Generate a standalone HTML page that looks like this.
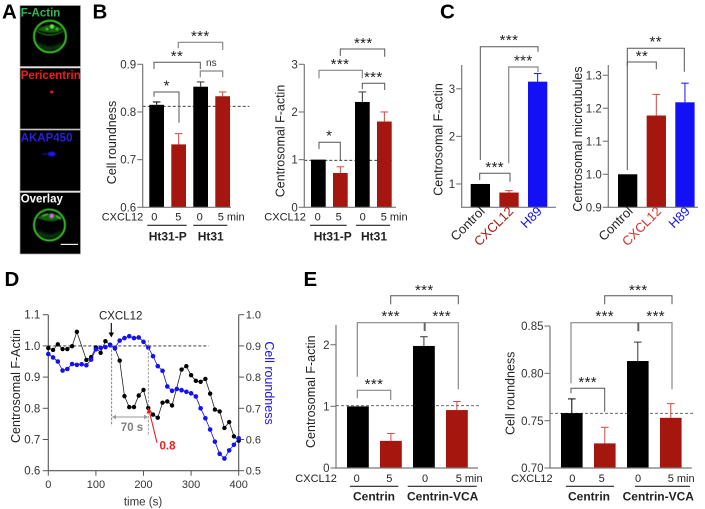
<!DOCTYPE html>
<html lang="en">
<head>
<meta charset="utf-8">
<title>Centrosomal F-actin figure</title>
<style>
html,body{margin:0;padding:0;background:#fff;width:705px;height:509px;overflow:hidden}
svg{display:block}
text{font-family:"Liberation Sans",Arial,sans-serif;fill:#222}
.letter{font-size:20.5px;font-weight:bold;fill:#000}
.tick{font-size:11.5px;fill:#333}
.lab{font-size:12.5px;fill:#222}
.row{font-size:11px;fill:#222}
.grp{font-size:12px;font-weight:bold;fill:#222}
.star{font-size:15px;text-anchor:middle;fill:#222;letter-spacing:.4px;transform:translateY(-1.5px)}
.brk{fill:none;stroke:#555;stroke-width:1}
.brkg{fill:none;stroke:#888;stroke-width:1.2}
.und{stroke:#222;stroke-width:1.1}
.dash{stroke:#222;stroke-width:.9;stroke-dasharray:3 2}
.micro{font-size:11.5px;font-weight:bold}
</style>
</head>
<body>
<svg id="fig" xmlns="http://www.w3.org/2000/svg" width="705" height="509" viewBox="0 0 705 509">
<defs>
<filter id="b1" x="-30%" y="-30%" width="160%" height="160%"><feGaussianBlur stdDeviation="0.6"/></filter>
<filter id="b2" x="-60%" y="-60%" width="220%" height="220%"><feGaussianBlur stdDeviation="1.5"/></filter>
</defs>
<rect x="0" y="0" width="705" height="509" fill="#fff"/>

<!-- Panel letters -->
<text class="letter" x="2" y="18.5">A</text>
<text class="letter" x="92.5" y="18.5">B</text>
<text class="letter" x="440" y="18.5">C</text>
<text class="letter" x="4.5" y="286">D</text>
<text class="letter" x="303.5" y="286">E</text>

<!-- Panel A micrographs -->
<g>
  <rect x="20" y="5.5" width="60.5" height="61" fill="#000" stroke="#aaa" stroke-width=".7"/>
  <path d="M37 30 Q50 20 63 29 Q56 36 37 30Z" fill="#145f0e" filter="url(#b1)"/>
  <path d="M38 44 Q50 53 62 44" fill="none" stroke="#0e4a0a" stroke-width="3" filter="url(#b2)"/>
  <ellipse cx="50" cy="36.5" rx="16" ry="15.8" fill="none" stroke="#3fd02c" stroke-width="1.8" filter="url(#b1)"/>
  <path d="M36.5 31 Q50 39 63.5 31" fill="none" stroke="#249a18" stroke-width=".9" filter="url(#b1)"/>
  <circle cx="52" cy="26.5" r="2.2" fill="#70e055" filter="url(#b1)"/>
  <circle cx="47" cy="29" r="1.3" fill="#55c83c" filter="url(#b1)"/>
  <circle cx="57" cy="29" r="1.3" fill="#55c83c" filter="url(#b1)"/>
</g>
<text class="micro" x="20.7" y="16.5" style="fill:#2fb653">F-Actin</text>
<g>
  <rect x="20" y="68" width="60.5" height="61" fill="#000" stroke="#aaa" stroke-width=".7"/>
  <circle cx="51.7" cy="92" r="1.5" fill="#f01818"/>
</g>
<text class="micro" x="20.7" y="79" style="fill:#ee1c1c">Pericentrin</text>
<g>
  <rect x="20" y="130" width="60.5" height="61" fill="#000" stroke="#aaa" stroke-width=".7"/>
  <ellipse cx="51.7" cy="154" rx="4" ry="2.4" fill="#2018f0" filter="url(#b1)"/>
  <ellipse cx="45" cy="154" rx="3" ry="1.3" fill="#0c0855" filter="url(#b1)"/>
</g>
<text class="micro" x="20.7" y="141.7" style="fill:#2a1fe0">AKAP450</text>
<g>
  <rect x="20" y="192.5" width="60.5" height="61.5" fill="#000" stroke="#aaa" stroke-width=".7"/>
  <path d="M37 218 Q50 209 62 217 Q55 225 37 218Z" fill="#145f0e" filter="url(#b1)"/>
  <path d="M38 232 Q50 241 61 232" fill="none" stroke="#0e4a0a" stroke-width="3" filter="url(#b2)"/>
  <ellipse cx="49.5" cy="225" rx="15.5" ry="15.5" fill="none" stroke="#3fd02c" stroke-width="1.8" filter="url(#b1)"/>
  <path d="M42 216 L48 214 M56 216 L61 219" stroke="#55c83c" stroke-width="1.4" filter="url(#b1)"/>
  <circle cx="51.7" cy="216" r="2.4" fill="#b070e0" filter="url(#b1)"/>
  <circle cx="51.7" cy="216" r="1" fill="#ff70a0"/>
  <rect x="60.7" y="243.8" width="17.3" height="1.2" fill="#eee"/>
</g>
<text class="micro" x="20.7" y="202.5" style="fill:#fff">Overlay</text>

<!-- Panel B annotations -->
<g>
  <line class="dash" x1="142.7" x2="249.3" y1="106.3" y2="106.3"/>
  <path class="brk" d="M154 96.7V92H179V122.7"/>
  <path class="brk" d="M154 69V62.3H200.3V69"/>
  <path class="brkg" d="M178.3 48.3V42.3H222.7V50"/>
  <path class="brkg" d="M200.3 77.3V71H222.7V77.3"/>
  <text class="star" x="166.7" y="92">*</text>
  <text class="star" x="177" y="62.7">**</text>
  <text class="star" x="200.3" y="42.7">***</text>
  <text x="211.3" y="66" font-size="10" text-anchor="middle" style="fill:#333">ns</text>
  <text class="row" x="101.7" y="220.6">CXCL12</text>
  <text class="row" x="154.3" y="220.6" text-anchor="middle">0</text>
  <text class="row" x="178.3" y="220.6" text-anchor="middle">5</text>
  <text class="row" x="199.7" y="220.6" text-anchor="middle">0</text>
  <text class="row" x="217.7" y="220.6">5 min</text>
  <line class="und" x1="147.3" x2="186.7" y1="225.3" y2="225.3"/>
  <line class="und" x1="193.3" x2="227.3" y1="225.3" y2="225.3"/>
  <text class="grp" x="167.7" y="240.3" text-anchor="middle">Ht31-P</text>
  <text class="grp" x="210.7" y="240.3" text-anchor="middle">Ht31</text>
</g>
<g>
  <line class="dash" x1="304.3" x2="391.7" y1="160.3" y2="160.3"/>
  <path class="brk" d="M319 149V142.3H340.3V160"/>
  <path class="brkg" d="M319 78.3V70.3H362.3V78.3"/>
  <path class="brk" d="M340.3 56V49H384.7V56.7"/>
  <path class="brk" d="M362.3 89.3V83.3H384.7V90"/>
  <text class="star" x="329.3" y="142">*</text>
  <text class="star" x="340" y="70.4">***</text>
  <text class="star" x="363.3" y="49.4">***</text>
  <text class="star" x="373.3" y="83.7">***</text>
  <text class="row" x="264.3" y="220.6">CXCL12</text>
  <text class="row" x="317.7" y="220.6" text-anchor="middle">0</text>
  <text class="row" x="338.7" y="220.6" text-anchor="middle">5</text>
  <text class="row" x="362.7" y="220.6" text-anchor="middle">0</text>
  <text class="row" x="380.7" y="220.6">5 min</text>
  <line class="und" x1="310" x2="346.7" y1="225.3" y2="225.3"/>
  <line class="und" x1="356" x2="390" y1="225.3" y2="225.3"/>
  <text class="grp" x="332.7" y="240.3" text-anchor="middle">Ht31-P</text>
  <text class="grp" x="374" y="240.3" text-anchor="middle">Ht31</text>
</g>

<!-- Panel C annotations -->
<g>
  <path class="brk" d="M480.3 160V46.7H538V51.7"/>
  <path class="brkg" d="M508.7 163.3V67H538V72"/>
  <path class="brk" d="M479.7 180V173.3H510V181.7"/>
  <text class="star" x="509" y="46.4">***</text>
  <text class="star" x="523.3" y="67">***</text>
  <text class="star" x="494.7" y="173.4">***</text>
  <path class="brk" d="M627.3 170V48.3H684.3V71.7"/>
  <path class="brk" d="M627.3 66V62H656.3V69.3"/>
  <text class="star" x="655.7" y="48">**</text>
  <text class="star" x="642" y="62.7">**</text>
</g>

<!-- Panel E annotations -->
<g>
  <line class="dash" style="stroke:#555" x1="336" x2="479" y1="405.7" y2="405.7"/>
  <path class="brk" d="M390.7 304.3V295.7H458.3V304.3"/>
  <path class="brkg" d="M357.3 376.7V322.7H458.3V389.3"/>
  <line x1="424.7" x2="424.7" y1="322.7" y2="331" stroke="#666" stroke-width="2"/>
  <path class="brkg" d="M357.3 398.3V390.3H390.7V400"/>
  <text class="star" x="424.3" y="296.4">***</text>
  <text class="star" x="390.7" y="322.7">***</text>
  <text class="star" x="441.7" y="322.7">***</text>
  <text class="star" x="374" y="390.7">***</text>
  <text class="row" x="295.3" y="481.8">CXCL12</text>
  <text class="row" x="356.7" y="481.8" text-anchor="middle">0</text>
  <text class="row" x="389.3" y="481.8" text-anchor="middle">5</text>
  <text class="row" x="425" y="481.8" text-anchor="middle">0</text>
  <text class="row" x="455.7" y="481.8">5 min</text>
  <line class="und" x1="350" x2="398.3" y1="486.3" y2="486.3"/>
  <line class="und" x1="407.7" x2="476.7" y1="486.3" y2="486.3"/>
  <text class="grp" x="374" y="500.3" text-anchor="middle">Centrin</text>
  <text class="grp" x="442.7" y="500.3" text-anchor="middle">Centrin-VCA</text>
</g>
<g>
  <line class="dash" style="stroke:#555" x1="550" x2="694" y1="413.3" y2="413.3"/>
  <path class="brk" d="M604.7 304.3V295.7H672V304.3"/>
  <path class="brkg" d="M571 383.3V322.7H672V389.3"/>
  <line x1="638.3" x2="638.3" y1="322.7" y2="331.3" stroke="#666" stroke-width="2"/>
  <path class="brk" d="M571 393.3V388.3H604.7V411.7"/>
  <text class="star" x="638.3" y="296.4">***</text>
  <text class="star" x="604.7" y="322.7">***</text>
  <text class="star" x="655.7" y="322.7">***</text>
  <text class="star" x="587.7" y="388.7">***</text>
  <text class="row" x="511" y="481.8">CXCL12</text>
  <text class="row" x="572.3" y="481.8" text-anchor="middle">0</text>
  <text class="row" x="601.7" y="481.8" text-anchor="middle">5</text>
  <text class="row" x="638" y="481.8" text-anchor="middle">0</text>
  <text class="row" x="667.7" y="481.8">5 min</text>
  <line class="und" x1="566" x2="614" y1="486.3" y2="486.3"/>
  <line class="und" x1="635" x2="690" y1="486.3" y2="486.3"/>
  <text class="grp" x="589" y="500.3" text-anchor="middle">Centrin</text>
  <text class="grp" x="658.3" y="500.3" text-anchor="middle">Centrin-VCA</text>
</g>

<g id="charts"></g>

<!-- Panel D annotations -->
<g>
  <text x="120.7" y="319.5" font-size="11.5" text-anchor="middle" style="fill:#222">CXCL12</text>
  <path d="M111.3 323V334" stroke="#000" stroke-width="1.1" fill="none"/>
  <path d="M108.6 332.5L111.3 337.5L114 332.5Z" fill="#000"/>
  <line x1="111.7" x2="111.7" y1="345.6" y2="426" stroke="#666" stroke-width=".8" stroke-dasharray="2.5 1.5"/>
  <line x1="148.3" x2="148.3" y1="340" y2="435.7" stroke="#888" stroke-width=".8" stroke-dasharray="2.5 1.5"/>
  <path d="M112.5 417H147.5" stroke="#999" stroke-width="1.1"/>
  <path d="M112 417L116 414.7V419.3Z M148 417L144 414.7V419.3Z" fill="#999"/>
  <text x="132" y="431" font-size="11.5" font-weight="bold" text-anchor="middle" style="fill:#7f7f7f">70 s</text>
  <path d="M157 442.7L149.5 412" stroke="#f01c1c" stroke-width="1.1" fill="none"/>
  <path d="M148.3 408L146.6 413.5L151.8 412.4Z" fill="#f01c1c"/>
  <text x="159.5" y="449.5" font-size="11.5" font-weight="bold" style="fill:#f01c1c">0.8</text>
</g>
</svg>

<script>
/* ===== Panel B left: cell roundness ===== */
const bLeftCategories = ['0', '5', '0', '5 min'];
const bLeftValues = [0.815, 0.732, 0.853, 0.833];
const bLeftErrTops = [0.821, 0.7545, 0.863, 0.842];
const bLeftTicks = ['0.6', '0.7', '0.8', '0.9'];
/* ===== Panel B right: centrosomal F-actin ===== */
const bRightCategories = ['0', '5', '0', '5 min'];
const bRightValues = [1, 0.72, 2.21, 1.8];
const bRightErrTops = [1, 0.85, 2.42, 2.0];
const bRightTicks = ['0', '1', '2', '3'];
/* ===== Panel C left ===== */
const cLeftCategories = ['Control', 'CXCL12', 'H89'];
const cLeftValues = [1, 0.82, 3.15];
const cLeftErrTops = [1, 0.86, 3.32];
const cLeftTicks = ['1', '2', '3'];
/* ===== Panel C right ===== */
const cRightCategories = ['Control', 'CXCL12', 'H89'];
const cRightValues = [1.0, 1.178, 1.218];
const cRightErrTops = [1.0, 1.242, 1.276];
const cRightTicks = ['0.9', '1.0', '1.1', '1.2', '1.3'];
/* ===== Panel E left ===== */
const eLeftValues = [1, 0.44, 1.98, 0.94];
const eLeftErrTops = [1, 0.56, 2.13, 1.08];
const eLeftTicks = ['0', '1', '2'];
/* ===== Panel E right ===== */
const eRightValues = [0.758, 0.726, 0.813, 0.753];
const eRightErrTops = [0.773, 0.743, 0.833, 0.768];
const eRightTicks = ['0.70', '0.75', '0.80', '0.85'];
/* ===== Panel D: time course ===== */
const dBlackTimes = [0,10,20,30,40,50,60,80,90,100,110,120,130,140,150,160,170,180,190,200,210,220,230,240,250,260,280,290,300,310,320,330,340,350,360,370,380,390,400];
const dBlackValues = [0.993,0.987,1.005,0.99,0.99,0.999,1.045,0.955,0.964,0.995,0.978,1.015,1.004,0.992,0.953,0.839,0.804,0.804,0.841,0.859,0.801,0.78,0.77,0.818,0.822,0.809,0.924,0.935,0.906,0.888,0.885,0.894,0.847,0.796,0.79,0.737,0.756,0.71,0.696];
const dBlueTimes = [0,10,20,30,40,50,60,70,80,90,100,110,120,130,140,150,160,170,180,190,200,210,220,230,240,250,260,270,280,290,300,310,320,330,340,350,360,370,380,390,400];
const dBlueValues = [0.874,0.863,0.85,0.821,0.826,0.842,0.839,0.841,0.838,0.856,0.889,0.894,0.896,0.902,0.894,0.917,0.925,0.931,0.925,0.927,0.913,0.895,0.867,0.835,0.82,0.77,0.756,0.762,0.758,0.753,0.748,0.738,0.7,0.668,0.632,0.593,0.554,0.539,0.565,0.583,0.604];
const dLeftTicks = ['0.6', '0.7', '0.8', '0.9', '1.0', '1.1'];
const dRightTicks = ['0.5', '0.6', '0.7', '0.8', '0.9', '1.0'];
const dTimeTicks = ['0', '100', '200', '300', '400'];

const NS = 'http://www.w3.org/2000/svg';
const root = document.getElementById('charts');
function add(parent, tag, attrs, txt) {
  const el = document.createElementNS(NS, tag);
  for (const k in attrs) el.setAttribute(k, attrs[k]);
  if (txt !== undefined) el.textContent = txt;
  parent.appendChild(el);
  return el;
}
function linear(d0, d1, r0, r1) {
  return function (v) { return r0 + (v - d0) * (r1 - r0) / (d1 - d0); };
}
const AXIS = '#777';

function barChart(c) {
  const g = add(root, 'g', {});
  
  
  const y = linear(c.dMin, c.dMax, c.bottom, c.top);
  const base = c.bottom;
  c.values.forEach(function (v, i) {
    const xl = c.x0 + i * c.step;
    const cx = xl + c.bw / 2;
    const col = c.colors[i];
    const errCol = c.errColors[i];
    if (c.errs[i] > v) {
      const e1 = add(g, 'line', { x1: cx, x2: cx, y1: y(v), y2: y(c.errs[i]), stroke: errCol, 'stroke-width': 1 });
      
      
      const e2 = add(g, 'line', { x1: cx - 3.8, x2: cx + 3.8, y1: y(c.errs[i]), y2: y(c.errs[i]), stroke: errCol, 'stroke-width': 1 });
      
      
    }
    const r = add(g, 'rect', { x: xl, y: y(v), width: c.bw, height: base - y(v), fill: col });
    
    
  });
  const ax = add(g, 'path', { d: 'M' + c.axisX + ' ' + c.top + 'V' + base + 'H' + c.axisEnd, fill: 'none', stroke: AXIS, 'stroke-width': 1.2 });
  
  
  c.ticks.forEach(function (t) {
    const py = y(parseFloat(t));
    const tk = add(g, 'line', { x1: c.axisX - 5.5, x2: c.axisX, y1: py, y2: py, stroke: AXIS, 'stroke-width': 1.1 });
    
    
    const tl = add(g, 'text', { x: c.axisX - 6.5, y: py + 4.1, 'text-anchor': 'end', class: 'tick' }, t);
    
    
  });
  const yl = add(g, 'text', { transform: 'translate(' + c.labX + ' ' + c.labY + ') rotate(-90)', 'text-anchor': 'middle', class: 'lab' }, c.label);
  
  
  if (c.cats) {
    c.cats.forEach(function (t, i) {
      const cl = add(g, 'text', { transform: 'translate(' + (c.catX0 + i * c.step) + ' 212) rotate(-45)', 'text-anchor': 'end', class: 'lab', style: 'font-size:13px;fill:' + c.catColors[i] }, t);
      
      
    });
  }
}

const RED = '#a5170e', REDE = '#d04a40', BLK = '#000', BLUE = '#1410f5';
const fourCols = [BLK, RED, BLK, RED];
const fourErr = [BLK, REDE, '#333', REDE];

barChart({ name: 'chart-b-cell-roundness', values: bLeftValues, errs: bLeftErrTops, ticks: bLeftTicks, dMin: 0.6, dMax: 0.9, bottom: 207.3, top: 64.3, axisX: 142.7, axisEnd: 231, x0: 149.3, step: 22, bw: 14.7, colors: fourCols, errColors: fourErr, label: 'Cell roundness', labX: 116, labY: 142.5 });
barChart({ name: 'chart-b-centrosomal-f-actin', values: bRightValues, errs: bRightErrTops, ticks: bRightTicks, dMin: 0, dMax: 3, bottom: 207.3, top: 64.3, axisX: 304.3, axisEnd: 396, x0: 311, step: 22, bw: 14.7, colors: fourCols, errColors: fourErr, label: 'Centrosomal F-actin', labX: 284.5, labY: 141 });
barChart({ name: 'chart-c-centrosomal-f-actin', values: cLeftValues, errs: cLeftErrTops, ticks: cLeftTicks, dMin: 0.51, dMax: 3.5, bottom: 207.3, top: 65, axisX: 461.7, axisEnd: 556, x0: 470.7, step: 28.65, bw: 19.3, colors: [BLK, RED, BLUE], errColors: [BLK, REDE, BLUE], label: 'Centrosomal F-actin', labX: 442.5, labY: 139.5, cats: cLeftCategories, catX0: 485.5, catColors: ['#222', RED, BLUE] });
barChart({ name: 'chart-c-centrosomal-microtubules', values: cRightValues, errs: cRightErrTops, ticks: cRightTicks, dMin: 0.9, dMax: 1.331, bottom: 207.3, top: 65, axisX: 608.3, axisEnd: 698, x0: 618, step: 28.65, bw: 19.3, colors: [BLK, RED, BLUE], errColors: [BLK, REDE, BLUE], label: 'Centrosomal microtubules', labX: 582, labY: 139, cats: cRightCategories, catX0: 633.5, catColors: ['#222', '#d2322a', BLUE] });
barChart({ name: 'chart-e-centrosomal-f-actin', values: eLeftValues, errs: eLeftErrTops, ticks: eLeftTicks, dMin: 0, dMax: 2.32, bottom: 468, top: 325, axisX: 336, axisEnd: 478, x0: 347, step: 33, bw: 21.8, colors: fourCols, errColors: fourErr, label: 'Centrosomal F-actin', labX: 315, labY: 391.7 });
barChart({ name: 'chart-e-cell-roundness', values: eRightValues, errs: eRightErrTops, ticks: eRightTicks, dMin: 0.7, dMax: 0.85, bottom: 468, top: 326, axisX: 550, axisEnd: 691.7, x0: 561, step: 33, bw: 21.6, colors: fourCols, errColors: fourErr, label: 'Cell roundness', labX: 514.5, labY: 393.3 });

/* Panel D */
(function () {
  const g = add(root, 'g', {});
  
  
  const X0 = 48.3, X1 = 238.7, YB = 470.7, YT = 314.7;
  const x = linear(0, 400, X0, X1);
  const yL = linear(0.6, 1.1, YB, YT);
  const yR = linear(0.5, 1.0, YB, YT);
  const ax = add(g, 'path', { d: 'M' + X0 + ' ' + YT + 'V' + YB + 'H' + X1 + 'V' + YT, fill: 'none', stroke: '#555', 'stroke-width': 1.1 });
  
  
  dLeftTicks.forEach(function (t) {
    const py = yL(parseFloat(t));
    const tk = add(g, 'line', { x1: X0 - 5.5, x2: X0, y1: py, y2: py, stroke: '#555', 'stroke-width': 1 });
    
    
    const tl = add(g, 'text', { x: X0 - 8, y: py + 4, 'text-anchor': 'end', class: 'tick' }, t);
    
    
  });
  dRightTicks.forEach(function (t) {
    const py = yR(parseFloat(t));
    const tk = add(g, 'line', { x1: X1, x2: X1 + 5.5, y1: py, y2: py, stroke: '#555', 'stroke-width': 1 });
    
    
    const tl = add(g, 'text', { x: X1 + 7, y: py + 4, class: 'tick', style: 'font-size:11px' }, t);
    
    
  });
  dTimeTicks.forEach(function (t) {
    const px = x(parseFloat(t));
    const tk = add(g, 'line', { x1: px, x2: px, y1: YB, y2: YB + 5, stroke: '#555', 'stroke-width': 1 });
    
    
    const tl = add(g, 'text', { x: px, y: 488, 'text-anchor': 'middle', class: 'tick', style: 'font-size:11px' }, t);
    
    
  });
  const xt = add(g, 'text', { x: 143, y: 505.5, 'text-anchor': 'middle', class: 'tick' }, 'time (s)');
  
  
  const y1t = add(g, 'text', { transform: 'translate(20 386) rotate(-90)', 'text-anchor': 'middle', class: 'lab' }, 'Centrosomal F-Actin');
  
  
  const y2t = add(g, 'text', { transform: 'translate(265 383) rotate(90)', 'text-anchor': 'middle', class: 'lab', style: 'fill:#1410f5' }, 'Cell roundness');
  
  
  const ref = add(g, 'line', { x1: X0, x2: x(337), y1: yL(1), y2: yL(1), stroke: '#222', 'stroke-width': .9, 'stroke-dasharray': '3 2' });
  
  

  const blackPts = dBlackTimes.map(function (t, i) { return x(t).toFixed(2) + ',' + yL(dBlackValues[i]).toFixed(2); }).join(' ');
  const bl = add(g, 'polyline', { points: blackPts, fill: 'none', stroke: '#222', 'stroke-width': .8 });
  
  
  dBlackTimes.forEach(function (t, i) {
    const p = add(g, 'circle', { cx: x(t), cy: yL(dBlackValues[i]), r: 2.2, fill: '#000' });
    
    
  });
  const bluePts = dBlueTimes.map(function (t, i) { return x(t).toFixed(2) + ',' + yR(dBlueValues[i]).toFixed(2); }).join(' ');
  const bu = add(g, 'polyline', { points: bluePts, fill: 'none', stroke: BLUE, 'stroke-width': .8 });
  
  
  dBlueTimes.forEach(function (t, i) {
    const p = add(g, 'circle', { cx: x(t), cy: yR(dBlueValues[i]), r: 2.3, fill: BLUE });
    
    
  });
})();
</script>
</body>
</html>
